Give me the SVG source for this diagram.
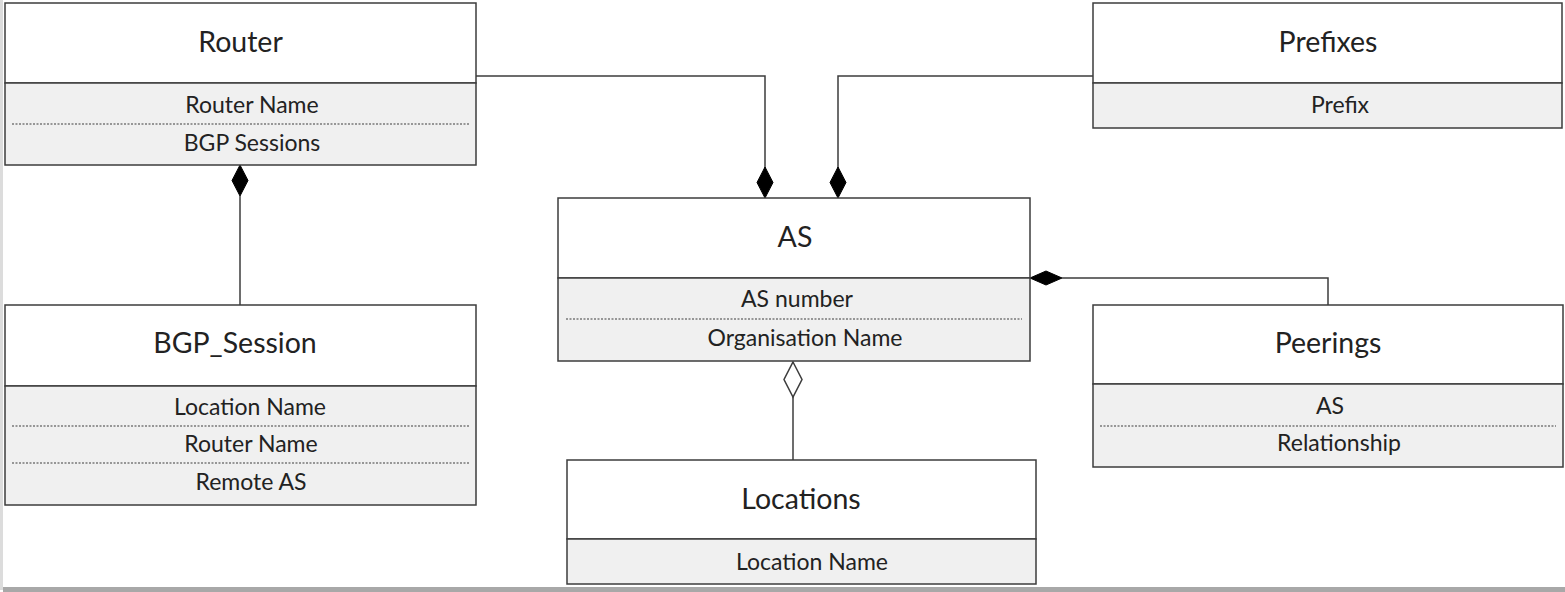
<svg xmlns="http://www.w3.org/2000/svg" width="1565" height="592" viewBox="0 0 1565 592">
  <style>
    .box { fill: #ffffff; stroke: #3c3c3c; stroke-width: 1.5; }
    .attr { fill: #f0f0f0; stroke: #3c3c3c; stroke-width: 1.5; }
    .sep { stroke: #3c3c3c; stroke-width: 1.2; stroke-dasharray: 2 1.5; }
    .title { font-family: Lato, "Open Sans", sans-serif; font-size: 28.5px; fill: #222; text-anchor: middle; }
    .field { font-family: Lato, "Open Sans", sans-serif; font-size: 23px; fill: #222; text-anchor: middle; }
    .wire { fill: none; stroke: #3c3c3c; stroke-width: 1.5; }
    .solid { fill: #000; stroke: #000; stroke-width: 1; }
    .hollow { fill: #fff; stroke: #3c3c3c; stroke-width: 1.5; }
  </style>

  <rect x="0" y="0" width="1565" height="592" fill="#ffffff"/>
  <!-- page edge -->
  <rect x="0" y="0" width="3" height="590" fill="#dcdcdc"/>
  <rect x="3" y="587" width="1562" height="5" fill="#a8a8a8"/>

  <g id="connectors">
    <!-- Router to AS -->
    <polyline class="wire" points="476,76 765,76 765,170"/>
    <polygon class="solid" points="765,167 773,182.5 765,198 757,182.5"/>
    <!-- Prefixes to AS -->
    <polyline class="wire" points="1101,76 838,76 838,170"/>
    <polygon class="solid" points="838,167 846,182.5 838,198 830,182.5"/>
    <!-- BGP_Session to Router -->
    <line class="wire" x1="240" y1="196" x2="240" y2="305"/>
    <polygon class="solid" points="240,165 248,180.5 240,196 232,180.5"/>
    <!-- Peerings to AS -->
    <polyline class="wire" points="1062,278 1328,278 1328,305"/>
    <polygon class="solid" points="1030,278 1046,271 1062,278 1046,285"/>
    <!-- Locations to AS -->
    <line class="wire" x1="793" y1="397" x2="793" y2="460"/>
    <polygon class="hollow" points="793,362 802,379.5 793,397 784,379.5"/>
  </g>

  <g id="router">
    <rect class="box" x="5" y="3" width="471" height="80"/>
    <rect class="attr" x="5" y="83" width="471" height="82"/>
    <line class="sep" x1="12" y1="124" x2="469" y2="124"/>
    <text class="title" x="240.5" y="52">Router</text>
    <text class="field" x="252" y="113">Router Name</text>
    <text class="field" x="252" y="151">BGP Sessions</text>
  </g>

  <g id="bgp-session">
    <rect class="box" x="5" y="305" width="471" height="81"/>
    <rect class="attr" x="5" y="386" width="471" height="119"/>
    <line class="sep" x1="12" y1="426" x2="469" y2="426"/>
    <line class="sep" x1="12" y1="463" x2="469" y2="463"/>
    <text class="title" x="235" y="353">BGP_Session</text>
    <text class="field" x="250" y="415">Location Name</text>
    <text class="field" x="251" y="452">Router Name</text>
    <text class="field" x="251" y="490">Remote AS</text>
  </g>

  <g id="as">
    <rect class="box" x="558" y="198" width="472" height="80"/>
    <rect class="attr" x="558" y="278" width="472" height="83"/>
    <line class="sep" x1="566" y1="319" x2="1022" y2="319"/>
    <text class="title" x="795" y="247">AS</text>
    <text class="field" x="797" y="307">AS number</text>
    <text class="field" x="805" y="346">Organisation Name</text>
  </g>

  <g id="locations">
    <rect class="box" x="567" y="460" width="469" height="79"/>
    <rect class="attr" x="567" y="539" width="469" height="45"/>
    <text class="title" x="801" y="509">Locations</text>
    <text class="field" x="812" y="570">Location Name</text>
  </g>

  <g id="prefixes">
    <rect class="box" x="1093" y="3" width="469" height="80"/>
    <rect class="attr" x="1093" y="83" width="469" height="45"/>
    <text class="title" x="1328" y="52">Prefixes</text>
    <text class="field" x="1340" y="113">Prefix</text>
  </g>

  <g id="peerings">
    <rect class="box" x="1093" y="305" width="470" height="79"/>
    <rect class="attr" x="1093" y="384" width="470" height="83"/>
    <line class="sep" x1="1100" y1="426" x2="1556" y2="426"/>
    <text class="title" x="1328" y="353">Peerings</text>
    <text class="field" x="1330" y="414">AS</text>
    <text class="field" x="1339" y="451">Relationship</text>
  </g>
</svg>
